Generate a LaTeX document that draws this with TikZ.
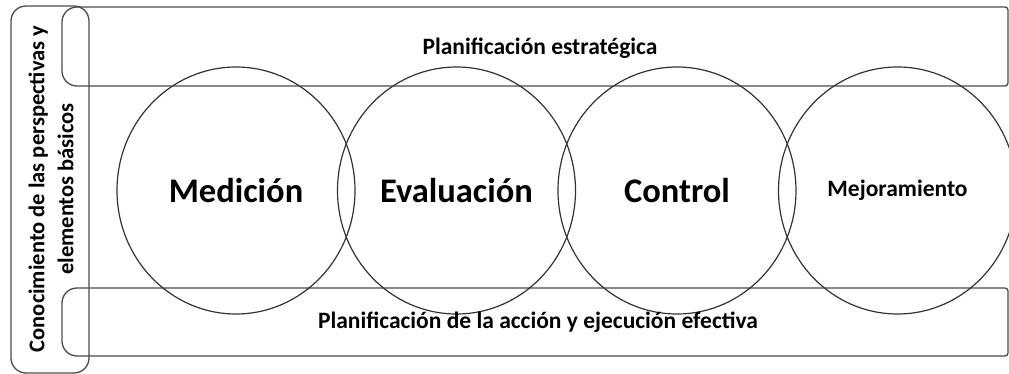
\documentclass[tikz,border=0pt]{standalone}
\usepackage{fontspec}
\setmainfont{Carlito}
\usetikzlibrary{shapes.geometric}

\tikzset{
  frame/.style={draw=black!70, line width=1.3pt},
  stage/.style={draw=black!80, line width=1.2pt, ellipse, minimum width=238, minimum height=247, inner sep=0pt},
  bigtxt/.style={font=\fontsize{34.5}{40}\selectfont\bfseries},
  smalltxt/.style={font=\fontsize{23.5}{29}\selectfont\bfseries},
  sidetxt/.style={font=\fontsize{22.5}{29}\selectfont\bfseries}
}

\begin{document}
\begin{tikzpicture}[x=1pt,y=1pt,yscale=-1,xscale=1]
\useasboundingbox (0,0) rectangle (1009,374);

% Planificacion estrategica (top band)
\draw [frame, rounded corners=15] (535,7) -- (62,7) -- (62,86) -- (535,86) [rounded corners=3] -- (1008,86) -- (1008,7) -- cycle ;
% Planificacion de la accion (bottom band)
\draw [frame, rounded corners=15] (535,288) -- (62,288) -- (62,356) -- (535,356) [rounded corners=3] -- (1008,356) -- (1008,288) -- cycle ;
% Conocimiento (left band)
\draw [frame, rounded corners=15] (11,6) rectangle (89,373) ;

% Stages
\node [stage, bigtxt] (medicion) at (236,190.5) {Medición};
\node [stage, bigtxt] (evaluacion) at (456.5,190.5) {Evaluación};
\node [stage, bigtxt] (control) at (677,190.5) {Control};
\node [stage, smalltxt] (mejora) at (897.5,190.5) {Mejoramiento};

% Band labels
\node [smalltxt] (estrategica) at (540,48) {Planificación estratégica};
\node [smalltxt] (accion) at (538,322) {Planificación de la acción y ejecución efectiva};
\node [sidetxt, rotate=90, align=center] (conocimiento) at (51,189) {Conocimiento de las perspectivas y\\elementos básicos};

\end{tikzpicture}
\end{document}
